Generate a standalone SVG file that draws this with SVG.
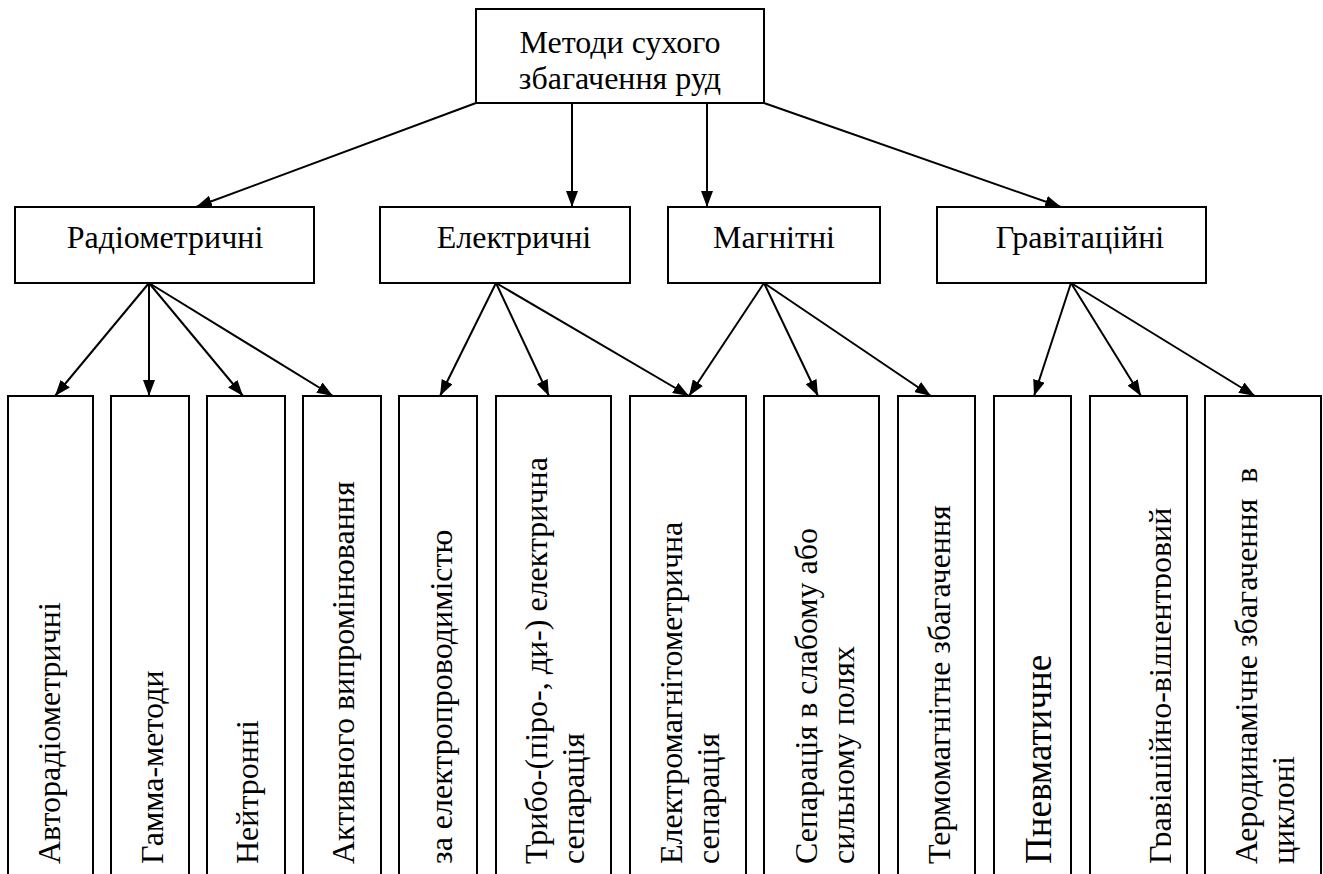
<svg xmlns="http://www.w3.org/2000/svg" width="1323" height="874" viewBox="0 0 1323 874">
<style>
  .box { fill: #ffffff; stroke: #000000; stroke-width: 2; }
  .t { font-family: 'Liberation Serif', 'DejaVu Serif', serif; font-size: 32px; fill: #000000; }
  .c { text-anchor: middle; }
  .big { font-size: 37px; }
  .conn line { stroke: #000000; stroke-width: 2; marker-end: url(#ah); }
</style>
<defs>
  <marker id="ah" markerUnits="userSpaceOnUse" markerWidth="16" markerHeight="12" refX="16" refY="6" orient="auto">
    <path d="M0,0 L16,6 L0,12 z" fill="#000000"/>
  </marker>
  <clipPath id="clipGrav">
    <rect x="1080" y="380" width="91" height="500"/>
  </clipPath>
</defs>
<rect x="0" y="0" width="1323" height="874" fill="#ffffff"/>

<g id="connectors" class="conn">
  <line x1="476" y1="103" x2="196" y2="207"/>
  <line x1="572" y1="103" x2="572" y2="207"/>
  <line x1="707" y1="103" x2="707" y2="207"/>
  <line x1="764" y1="103" x2="1061" y2="207"/>

  <line x1="149" y1="283" x2="55" y2="396"/>
  <line x1="149" y1="283" x2="149" y2="396"/>
  <line x1="149" y1="283" x2="243" y2="396"/>
  <line x1="149" y1="283" x2="333" y2="396"/>

  <line x1="496" y1="283" x2="440" y2="396"/>
  <line x1="496" y1="283" x2="549" y2="396"/>
  <line x1="496" y1="283" x2="689" y2="396"/>

  <line x1="764" y1="283" x2="689" y2="396"/>
  <line x1="764" y1="283" x2="818" y2="396"/>
  <line x1="764" y1="283" x2="931" y2="396"/>

  <line x1="1071" y1="283" x2="1034" y2="396"/>
  <line x1="1071" y1="283" x2="1141" y2="396"/>
  <line x1="1071" y1="283" x2="1255" y2="396"/>
</g>

<g id="root">
  <rect class="box" x="476" y="9" width="288" height="94"/>
  <text class="t c" x="620" y="53">Методи сухого</text>
  <text class="t c" x="620" y="89">збагачення руд</text>
</g>

<g id="radiometric">
  <rect class="box" x="15" y="207" width="299" height="76"/>
  <text class="t c" x="165" y="248">Радіометричні</text>
</g>
<g id="electric">
  <rect class="box" x="380" y="207" width="250" height="76"/>
  <text class="t c" x="514" y="248">Електричні</text>
</g>
<g id="magnetic">
  <rect class="box" x="668" y="207" width="212" height="76"/>
  <text class="t c" x="774" y="248">Магнітні</text>
</g>
<g id="gravity">
  <rect class="box" x="937" y="207" width="269" height="76"/>
  <text class="t c" x="1080" y="248">Гравітаційні</text>
</g>

<g id="autoradiometric">
  <rect class="box" x="8" y="396" width="85" height="490"/>
  <text class="t" transform="translate(60,864) rotate(-90)">Авторадіометричні</text>
</g>
<g id="gamma">
  <rect class="box" x="111" y="396" width="78" height="490"/>
  <text class="t" transform="translate(163,864) rotate(-90)">Гамма-методи</text>
</g>
<g id="neutron">
  <rect class="box" x="207" y="396" width="78" height="490"/>
  <text class="t" transform="translate(258,864) rotate(-90)">Нейтронні</text>
</g>
<g id="activation">
  <rect class="box" x="303" y="396" width="78" height="490"/>
  <text class="t" transform="translate(354,864) rotate(-90)">Активного випромінювання</text>
</g>
<g id="conductivity">
  <rect class="box" x="399" y="396" width="78" height="490"/>
  <text class="t" transform="translate(452,864) rotate(-90)">за електропроводимістю</text>
</g>
<g id="tribo">
  <rect class="box" x="496" y="396" width="115" height="490"/>
  <text class="t" transform="translate(547,864) rotate(-90)"><tspan x="0" y="0">Трибо-(піро-, ди-) електрична</tspan><tspan x="0" y="37">сепарація</tspan></text>
</g>
<g id="electromagnetometric">
  <rect class="box" x="630" y="396" width="116" height="490"/>
  <text class="t" transform="translate(682,864) rotate(-90)"><tspan x="0" y="0">Електромагнітометрична</tspan><tspan x="0" y="37">сепарація</tspan></text>
</g>
<g id="weak-strong">
  <rect class="box" x="764" y="396" width="115" height="490"/>
  <text class="t" transform="translate(817,864) rotate(-90)"><tspan x="0" y="0">Сепарація в слабому або</tspan><tspan x="0" y="37">сильному полях</tspan></text>
</g>
<g id="thermomagnetic">
  <rect class="box" x="898" y="396" width="77" height="490"/>
  <text class="t" transform="translate(950,864) rotate(-90)">Термомагнітне збагачення</text>
</g>
<g id="pneumatic">
  <rect class="box" x="994" y="396" width="77" height="490"/>
  <text class="t big" transform="translate(1051,864) rotate(-90)">Пневматичне</text>
</g>
<g id="centrifugal">
  <rect class="box" x="1090" y="396" width="97" height="490"/>
  <g clip-path="url(#clipGrav)">
    <text class="t" transform="translate(1171,864) rotate(-90)">Гравіаційно-відцентровий</text>
  </g>
</g>
<g id="aerodynamic">
  <rect class="box" x="1205" y="396" width="116" height="490"/>
  <text class="t" transform="translate(1257,864) rotate(-90)" xml:space="preserve"><tspan x="0" y="0">Аеродинамічне збагачення  в</tspan><tspan x="0" y="37">циклоні</tspan></text>
</g>
</svg>
